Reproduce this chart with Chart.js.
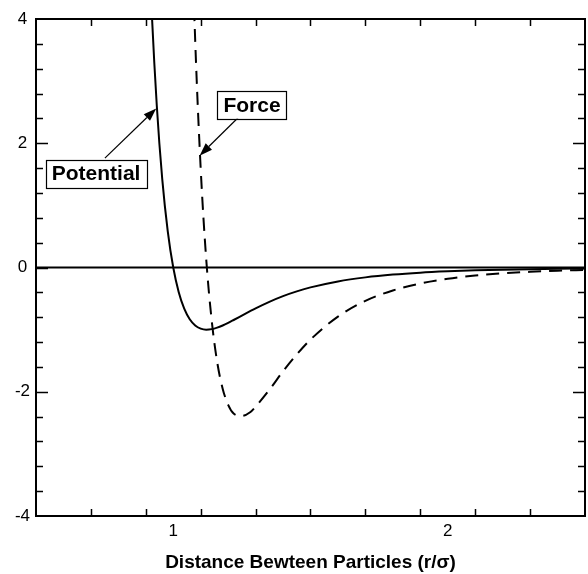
<!DOCTYPE html>
<html>
<head>
<meta charset="utf-8">
<script src="https://cdn.jsdelivr.net/npm/chart.js@4.4.0/dist/chart.umd.min.js"></script>
<style>
  body { margin: 0; background: #fff; }
  #wrap { width: 588px; height: 574px; }
</style>
</head>
<body>
<div id="wrap"><canvas id="ljChart"></canvas></div>
<script>
// r/sigma
const distance = [0.88, 0.90, 0.92, 0.94, 0.96, 0.98, 1.00, 1.02, 1.04, 1.06, 1.08, 1.10, 1.12, 1.14, 1.16, 1.18, 1.20, 1.22, 1.25, 1.28, 1.30, 1.35, 1.40, 1.45, 1.50, 1.60, 1.70, 1.80, 1.90, 2.00, 2.10, 2.20, 2.30, 2.40, 2.50];
const potential = [9.93, 6.64, 4.28, 2.607, 1.418, 0.582, 0, -0.398, -0.663, -0.832, -0.932, -0.983, -1.0, -0.992, -0.968, -0.933, -0.891, -0.845, -0.774, -0.703, -0.657, -0.552, -0.460, -0.384, -0.320, -0.224, -0.159, -0.114, -0.083, -0.062, -0.046, -0.035, -0.027, -0.021, -0.016];
const force = [null, null, null, null, null, null, null, null, 10.6, 6.54, 3.65, 1.59, 0.14, -0.85, -1.52, -1.95, -2.21, -2.35, -2.39, -2.33, -2.24, -1.97, -1.67, -1.40, -1.16, -0.79, -0.536, -0.369, -0.257, -0.182, -0.13, -0.094, -0.07, -0.052, -0.039];

const xTickValues = [1, 2];
const yTickValues = [-4, -2, 0, 2, 4];
const xMinorStep = 0.2;
const yMinorStep = 0.4;

// callout labels: text, box centre, arrow tail, arrow tip (data coords)
const callouts = [
    { text: 'Potential', box: [0.719, 1.51], tail: [0.751, 1.76], tip: [0.938, 2.56] },
    { text: 'Force', box: [1.287, 2.62], tail: [1.236, 2.41], tip: [1.096, 1.80] }
];

const fontFamily = '"Liberation Sans", Arial, Helvetica, sans-serif';

function toPoints(ys) {
    return distance.map((r, i) => ({ x: r, y: ys[i] }));
}

function drawArrow(ctx, x1, y1, x2, y2) {
    let ang = Math.atan2(y2 - y1, x2 - x1);
    let headLen = 13, headW = 4.5;
    ctx.beginPath();
    ctx.moveTo(x1, y1);
    ctx.lineTo(x2 - Math.cos(ang) * headLen, y2 - Math.sin(ang) * headLen);
    ctx.lineWidth = 1.2;
    ctx.stroke();
    ctx.beginPath();
    ctx.moveTo(x2, y2);
    ctx.lineTo(x2 - Math.cos(ang) * headLen - Math.sin(ang) * headW, y2 - Math.sin(ang) * headLen + Math.cos(ang) * headW);
    ctx.lineTo(x2 - Math.cos(ang) * headLen + Math.sin(ang) * headW, y2 - Math.sin(ang) * headLen - Math.cos(ang) * headW);
    ctx.closePath();
    ctx.fill();
}

const framePlugin = {
    id: 'frameAndTicks',
    beforeDatasetsDraw(chart) {
        let { ctx, chartArea: a, scales: { y } } = chart;
        // zero line
        ctx.save();
        ctx.strokeStyle = '#000';
        ctx.lineWidth = 2;
        ctx.beginPath();
        ctx.moveTo(a.left, y.getPixelForValue(0));
        ctx.lineTo(a.right, y.getPixelForValue(0));
        ctx.stroke();
        ctx.restore();
    },
    afterDatasetsDraw(chart) {
        let { ctx, chartArea: a, scales: { x, y } } = chart;
        ctx.save();
        ctx.strokeStyle = '#000';
        ctx.fillStyle = '#000';

        // ticks pointing inward on all four sides
        ctx.lineWidth = 1.5;
        ctx.beginPath();
        for (let v = x.min + xMinorStep; v < x.max - 1e-6; v += xMinorStep) {
            let major = xTickValues.some(t => Math.abs(t - v) < 1e-6);
            let len = major ? 12 : 7;
            let px = Math.round(x.getPixelForValue(v)) + 0.5;
            ctx.moveTo(px, a.bottom); ctx.lineTo(px, a.bottom - len);
            ctx.moveTo(px, a.top); ctx.lineTo(px, a.top + len);
        }
        for (let v = y.min + yMinorStep; v < y.max - 1e-6; v += yMinorStep) {
            let major = yTickValues.some(t => Math.abs(t - v) < 1e-6);
            let len = major ? 12 : 7;
            let py = Math.round(y.getPixelForValue(v)) + 0.5;
            ctx.moveTo(a.left, py); ctx.lineTo(a.left + len, py);
            ctx.moveTo(a.right, py); ctx.lineTo(a.right - len, py);
        }
        ctx.stroke();

        // frame
        ctx.lineWidth = 2;
        ctx.strokeRect(a.left, a.top, a.right - a.left, a.bottom - a.top);

        // callouts
        ctx.font = 'bold 21px ' + fontFamily;
        ctx.textAlign = 'center';
        ctx.textBaseline = 'middle';
        callouts.forEach(c => {
            let tx = x.getPixelForValue(c.tail[0]), ty = y.getPixelForValue(c.tail[1]);
            let hx = x.getPixelForValue(c.tip[0]), hy = y.getPixelForValue(c.tip[1]);
            drawArrow(ctx, tx, ty, hx, hy);
            let bx = x.getPixelForValue(c.box[0]), by = y.getPixelForValue(c.box[1]);
            let w = ctx.measureText(c.text).width + 12, h = 28;
            ctx.fillStyle = '#fff';
            ctx.fillRect(bx - w / 2, by - h / 2, w, h);
            ctx.lineWidth = 1.2;
            ctx.strokeRect(Math.round(bx - w / 2) + 0.5, Math.round(by - h / 2) + 0.5, Math.round(w), h);
            ctx.fillStyle = '#000';
            ctx.fillText(c.text, bx, by + 1);
        });
        ctx.restore();
    }
};

Chart.defaults.font.family = fontFamily;
Chart.defaults.color = '#000';

new Chart(document.getElementById('ljChart'), {
    type: 'line',
    data: {
        datasets: [
            {
                label: 'Potential',
                data: toPoints(potential),
                borderColor: '#000',
                borderWidth: 2,
                pointRadius: 0,
                cubicInterpolationMode: 'monotone',
                fill: false
            },
            {
                label: 'Force',
                data: toPoints(force),
                borderColor: '#000',
                borderWidth: 2,
                borderDash: [13, 8],
                pointRadius: 0,
                cubicInterpolationMode: 'monotone',
                spanGaps: false,
                fill: false
            }
        ]
    },
    options: {
        responsive: true,
        maintainAspectRatio: false,
        animation: false,
        layout: { padding: { top: 19, right: 3, left: 0, bottom: 0 } },
        scales: {
            x: {
                type: 'linear',
                min: 0.5,
                max: 2.5,
                grid: { display: false, drawTicks: false },
                border: { display: false },
                afterBuildTicks: s => { s.ticks = xTickValues.map(v => ({ value: v })); },
                afterFit: s => { s.height = 58; },
                ticks: {
                    font: { size: 17 },
                    padding: 5,
                    maxRotation: 0,
                    callback: v => String(v)
                },
                title: {
                    display: true,
                    text: 'Distance Bewteen Particles (r/σ)',
                    font: { size: 19, weight: 'bold' },
                    padding: { top: 0, bottom: 0 }
                }
            },
            y: {
                min: -4,
                max: 4,
                grid: { display: false, drawTicks: false },
                border: { display: false },
                afterBuildTicks: s => { s.ticks = yTickValues.map(v => ({ value: v })); },
                afterFit: s => { s.width = 36; },
                ticks: {
                    font: { size: 17 },
                    padding: 6,
                    crossAlign: 'center',
                    callback: v => String(v)
                }
            }
        },
        plugins: {
            legend: { display: false },
            tooltip: { enabled: false }
        }
    },
    plugins: [framePlugin]
});
</script>
</body>
</html>
